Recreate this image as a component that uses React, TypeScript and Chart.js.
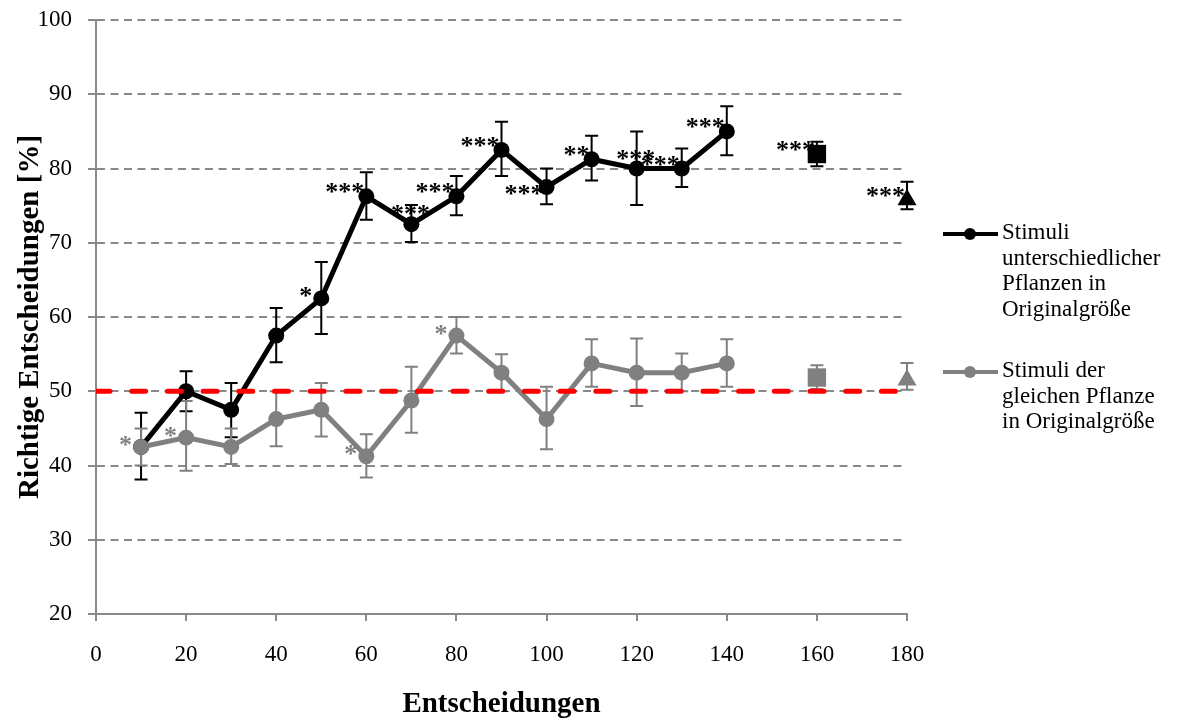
import React, { useEffect, useRef } from 'react';
import { Chart, registerables } from 'chart.js';

Chart.register(...registerables);

const FONT = "'Liberation Serif', 'Times New Roman', serif";
const GRID = '#898989';
const GRAY = '#808080';

// ---- data ----
const decisions = [10, 20, 30, 40, 50, 60, 70, 80, 90, 100, 110, 120, 130, 140];

const blackMean = [42.5, 50, 47.5, 57.5, 62.5, 76.25, 72.5, 76.25, 82.5, 77.5, 81.25, 80, 80, 85];
const blackLow = [38.1, 47.3, 43.8, 53.9, 57.7, 73.1, 70.1, 73.7, 79.0, 75.2, 78.4, 75.1, 77.5, 81.8];
const blackHigh = [47.1, 52.7, 51.1, 61.2, 67.4, 79.5, 75.1, 79.0, 86.3, 80.0, 84.4, 85.0, 82.7, 88.4];
const blackSig = ['', '', '', '', '*', '***', '***', '***', '***', '***', '**', '***', '***', '***'];
const blackSigPlace = ['L', 'L', 'L', 'L', 'L', 'L', 'A', 'L', 'L', 'B', 'L', 'A', 'L', 'L'];

const grayMean = [42.5, 43.75, 42.5, 46.25, 47.5, 41.25, 48.75, 57.5, 52.5, 46.25, 53.75, 52.5, 52.5, 53.75];
const grayLow = [40.0, 39.3, 40.2, 42.6, 43.9, 38.4, 44.4, 55.1, 50.0, 42.2, 50.6, 48.0, 50.0, 50.6];
const grayHigh = [45.0, 48.7, 45.0, 50.0, 51.1, 44.2, 53.3, 60.0, 55.0, 50.6, 57.0, 57.1, 55.1, 57.0];
const graySig = ['*', '*', '', '', '', '*', '', '*', '', '', '', '', '', ''];

// separate test points (square at 160, triangle at 180)
const testX = [160, 180];
const blackTestMean = [81.95, 75.8];
const blackTestLow = [80.3, 74.5];
const blackTestHigh = [83.6, 78.2];
const blackTestSig = ['***', '***'];
const grayTestMean = [51.85, 51.5];
const grayTestLow = [50.3, 50.2];
const grayTestHigh = [53.5, 53.8];

const chanceLevel = 50;

const xTicksMin = 0;
const xTicksMax = 180;
const yTicksMin = 20;
const yTicksMax = 100;

const legendBlack = ['Stimuli', 'unterschiedlicher', 'Pflanzen in', 'Originalgröße'];
const legendGray = ['Stimuli der', 'gleichen Pflanze', 'in Originalgröße'];

const pts = (xs: number[], ys: number[]) => xs.map((x, i) => ({ x, y: ys[i] }));

const errorBarPlugin = {
  id: 'errorBars',
  beforeDatasetsDraw(chart: any) {
    const { ctx, scales } = chart;
    const xs = scales.x;
    const ys = scales.y;
    const draw = (xv: number[], lo: number[], hi: number[], color: string) => {
      ctx.save();
      ctx.strokeStyle = color;
      ctx.lineWidth = 2;
      ctx.setLineDash([]);
      for (let i = 0; i < xv.length; i++) {
        const px = xs.getPixelForValue(xv[i]);
        const pl = ys.getPixelForValue(lo[i]);
        const ph = ys.getPixelForValue(hi[i]);
        ctx.beginPath();
        ctx.moveTo(px, ph);
        ctx.lineTo(px, pl);
        ctx.moveTo(px - 6.5, ph);
        ctx.lineTo(px + 6.5, ph);
        ctx.moveTo(px - 6.5, pl);
        ctx.lineTo(px + 6.5, pl);
        ctx.stroke();
      }
      ctx.restore();
    };
    draw(decisions, blackLow, blackHigh, '#000');
    draw(testX, blackTestLow, blackTestHigh, '#000');
    draw(decisions, grayLow, grayHigh, GRAY);
    draw(testX, grayTestLow, grayTestHigh, GRAY);
  },
};

const sigPlugin = {
  id: 'sigLabels',
  afterDatasetsDraw(chart: any) {
    const { ctx, scales } = chart;
    const xs = scales.x;
    const ys = scales.y;
    ctx.save();
    ctx.font = `bold 26px ${FONT}`;
    ctx.textAlign = 'left';
    ctx.textBaseline = 'alphabetic';
    const put = (text: string, xv: number, yv: number, place: string, color: string) => {
      if (!text) return;
      const px = xs.getPixelForValue(xv);
      const py = ys.getPixelForValue(yv);
      const m = ctx.measureText(text);
      const gl = -m.actualBoundingBoxLeft;
      const gr = m.actualBoundingBoxRight;
      const gw = gr - gl;
      const asc = m.actualBoundingBoxAscent;
      const desc = m.actualBoundingBoxDescent;
      let right: number;
      let cy: number;
      if (place === 'A') {
        right = px - 1 + gw / 2;
        cy = py - 14;
      } else if (place === 'B') {
        right = px - 4;
        cy = py + 3;
      } else {
        right = px - (text.length === 1 ? 10 : 3);
        cy = py - (text.length === 1 ? 6 : 8);
      }
      const x0 = right - gr;
      const base = cy + (asc - desc) / 2;
      ctx.fillStyle = color;
      ctx.fillText(text, x0, base);
    };
    for (let i = 0; i < decisions.length; i++) {
      put(blackSig[i], decisions[i], blackMean[i], blackSigPlace[i], '#000');
      put(graySig[i], decisions[i], grayMean[i], 'L', GRAY);
    }
    for (let i = 0; i < testX.length; i++) {
      put(blackTestSig[i], testX[i], blackTestMean[i], 'L', '#000');
    }
    ctx.restore();
  },
};

const legendPlugin = {
  id: 'customLegend',
  afterDraw(chart: any) {
    const { ctx } = chart;
    const items = [
      { color: '#000', lines: legendBlack, y: 233 },
      { color: GRAY, lines: legendGray, y: 371 },
    ];
    ctx.save();
    for (const it of items) {
      ctx.strokeStyle = it.color;
      ctx.lineWidth = 4;
      ctx.setLineDash([]);
      ctx.beginPath();
      ctx.moveTo(943, it.y + 1);
      ctx.lineTo(998, it.y + 1);
      ctx.stroke();
      ctx.fillStyle = it.color;
      ctx.beginPath();
      ctx.arc(970, it.y + 1, 6, 0, Math.PI * 2);
      ctx.fill();
      ctx.fillStyle = '#000';
      ctx.font = `23px ${FONT}`;
      ctx.textAlign = 'left';
      ctx.textBaseline = 'middle';
      it.lines.forEach((t, k) => {
        ctx.fillText(t, 1002, it.y + k * 25.6);
      });
    }
    ctx.restore();
  },
};

export default function App() {
  const ref = useRef<HTMLCanvasElement>(null);
  useEffect(() => {
    document.body.style.margin = '0';
    const canvas = ref.current!;
    const chart = new Chart(canvas, {
      type: 'scatter',
      data: {
        datasets: [
          {
            label: 'Zufall',
            data: [
              { x: xTicksMin, y: chanceLevel },
              { x: xTicksMax, y: chanceLevel },
            ],
            showLine: true,
            borderColor: '#ff0000',
            borderWidth: 5,
            borderDash: [14, 21.7],
            borderCapStyle: 'round',
            pointRadius: 0,
          } as any,
          {
            label: 'Stimuli der gleichen Pflanze in Originalgröße',
            data: pts(decisions, grayMean),
            showLine: true,
            borderColor: GRAY,
            backgroundColor: GRAY,
            borderWidth: 5,
            pointRadius: 8,
            pointBorderWidth: 0,
            pointBackgroundColor: GRAY,
          },
          {
            label: 'gray square',
            data: [{ x: testX[0], y: grayTestMean[0] }],
            pointStyle: 'rect',
            pointRadius: 13,
            pointBorderWidth: 0,
            backgroundColor: GRAY,
            borderColor: GRAY,
            clip: false,
          } as any,
          {
            label: 'gray triangle',
            data: [{ x: testX[1], y: grayTestMean[1] }],
            pointStyle: 'triangle',
            pointRadius: 11,
            pointBorderWidth: 0,
            backgroundColor: GRAY,
            borderColor: GRAY,
            clip: false,
          } as any,
          {
            label: 'Stimuli unterschiedlicher Pflanzen in Originalgröße',
            data: pts(decisions, blackMean),
            showLine: true,
            borderColor: '#000',
            backgroundColor: '#000',
            borderWidth: 5,
            pointRadius: 8,
            pointBorderWidth: 0,
            pointBackgroundColor: '#000',
          },
          {
            label: 'black square',
            data: [{ x: testX[0], y: blackTestMean[0] }],
            pointStyle: 'rect',
            pointRadius: 13,
            pointBorderWidth: 0,
            backgroundColor: '#000',
            borderColor: '#000',
            clip: false,
          } as any,
          {
            label: 'black triangle',
            data: [{ x: testX[1], y: blackTestMean[1] }],
            pointStyle: 'triangle',
            pointRadius: 11,
            pointBorderWidth: 0,
            backgroundColor: '#000',
            borderColor: '#000',
            clip: false,
          } as any,
        ],
      },
      options: {
        responsive: false,
        animation: false,
        devicePixelRatio: 1,
        layout: { padding: { left: 0, top: 20, right: 270, bottom: 0 } },
        plugins: {
          legend: { display: false },
          tooltip: { enabled: false },
        },
        scales: {
          x: {
            type: 'linear',
            min: xTicksMin,
            max: xTicksMax,
            ticks: {
              stepSize: 20,
              color: '#000',
              font: { family: FONT, size: 23 },
              padding: 20,
              maxRotation: 0,
            },
            grid: {
              drawOnChartArea: false,
              drawTicks: true,
              tickLength: 7,
              color: GRID,
              lineWidth: 2,
            },
            border: { color: GRID, width: 2 },
            title: {
              display: true,
              text: 'Entscheidungen',
              color: '#000',
              font: { family: FONT, size: 29, weight: 'bold' },
              padding: { top: 0, bottom: 0 },
            },
            afterFit: (s: any) => {
              s.height = 108;
              s.paddingLeft = 0;
              s.paddingRight = 0;
            },
          },
          y: {
            type: 'linear',
            min: yTicksMin,
            max: yTicksMax,
            ticks: {
              stepSize: 10,
              color: '#000',
              font: { family: FONT, size: 23 },
              padding: 16,
            },
            grid: {
              color: (c: any) => (c.tick && c.tick.value === yTicksMin ? 'rgba(0,0,0,0)' : GRID),
              tickColor: GRID,
              lineWidth: 2,
              tickLength: 8,
              tickBorderDash: [],
            },
            border: { color: GRID, width: 2, dash: [8, 5.5] },
            title: {
              display: true,
              text: 'Richtige Entscheidungen [%]',
              color: '#000',
              font: { family: FONT, size: 29, weight: 'bold' },
              padding: { top: 13, bottom: 0 },
            },
            afterFit: (s: any) => {
              s.width = 96;
              s.paddingTop = 0;
              s.paddingBottom = 0;
            },
          },
        },
      } as any,
      plugins: [errorBarPlugin, sigPlugin, legendPlugin],
    });
    return () => chart.destroy();
  }, []);
  return (
    <div style={{ width: 1177, height: 722, position: 'relative' }}>
      <canvas ref={ref} width={1177} height={722} style={{ display: 'block' }} />
    </div>
  );
}
